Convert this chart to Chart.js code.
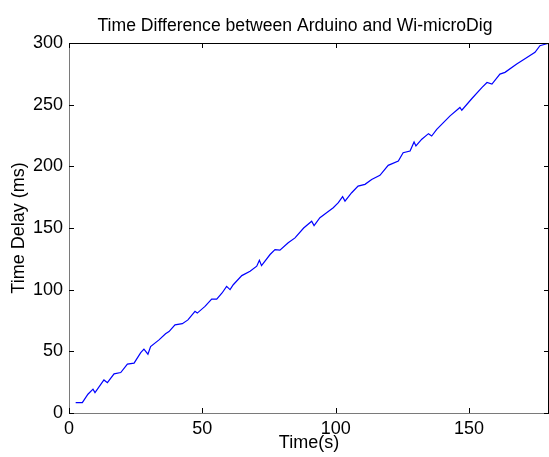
<!DOCTYPE html>
<html>
<head>
<meta charset="utf-8">
<script src="https://cdn.jsdelivr.net/npm/chart.js@4"></script>
<style>
  html, body { margin: 0; padding: 0; background: #fff; }
  #wrap { width: 549px; height: 457px; }
</style>
</head>
<body>
<div id="wrap"><canvas id="delayChart" width="549" height="457"></canvas></div>
<script>
const titleText = "Time Difference between Arduino and Wi-microDig";
const xTicks = [0, 50, 100, 150];
const yTicks = [0, 50, 100, 150, 200, 250, 300];

// seconds / milliseconds
const timeS = [2.5, 5, 7.1, 9, 9.75, 13.1, 14.4, 16.9, 19.4, 21.9, 24.4, 26.9, 28.1, 29.6, 30.6,
    33.75, 36.2, 37.5, 39.75, 42.5, 44.6, 47.25, 48.1, 51, 53.5, 55.4, 57.4, 59.1, 60.4, 61.6,
    64.8, 67.9, 70.4, 71.4, 72.2, 75.4, 77.25, 79.1, 82.2, 84.75, 88, 91, 91.9, 94.1, 96.6,
    99.1, 101, 102.6, 103.5, 106, 108.4, 111, 113.5, 116.6, 119.7, 123.5, 125.3, 127.9, 129.4,
    130.1, 132.3, 134.8, 136, 137.9, 140.4, 142.9, 146.6, 147.3, 151.1, 154.9, 156.75, 158.6,
    161.6, 163.5, 167.9, 170.4, 174.75, 176.6, 178.5, 180];
const delayMs = [8.4, 8.4, 15.2, 19.3, 16.5, 26.8, 24.6, 31.7, 32.8, 39.6, 40.4, 49, 51.8, 47.7, 53.9,
    59.3, 64.2, 66, 71.5, 72.4, 75.5, 82.4, 81, 86.4, 92.4, 92.4, 97.3, 102.7, 100, 104,
    111.4, 114.9, 119, 123.8, 119.5, 128.5, 132.5, 132, 138, 142, 150, 155.5, 152, 158.3, 162.3,
    166.4, 170.5, 175.4, 171.8, 178.6, 184, 185.4, 189.4, 192.7, 200.8, 204.3, 211, 212.4, 219.8,
    216.5, 222, 226.5, 224.6, 230, 235.5, 240.9, 247.7, 245.5, 255, 264, 268, 266.7,
    274.8, 276.2, 283, 286.4, 292.4, 297.8, 299, 300];

const points = timeS.map((t, i) => ({ x: t, y: delayMs[i] }));
const font = { family: "'Liberation Sans', Arial, sans-serif", size: 18 };

// matlab style frame: inward ticks, top/right box, title over the axes
const matlabFrame = {
    id: "matlabFrame",
    afterDraw(chart) {
        const c = chart.ctx;
        const a = chart.chartArea;
        const xs = chart.scales.x, ys = chart.scales.y;
        c.save();
        c.strokeStyle = "#000";
        c.lineWidth = 1;
        c.beginPath();
        c.moveTo(a.left, a.top + 0.5);
        c.lineTo(a.right, a.top + 0.5);
        c.moveTo(a.right - 0.5, a.top);
        c.lineTo(a.right - 0.5, a.bottom);
        xTicks.forEach(v => {
            const px = Math.round(xs.getPixelForValue(v)) + 0.5;
            c.moveTo(px, a.bottom); c.lineTo(px, a.bottom - 5);
            c.moveTo(px, a.top); c.lineTo(px, a.top + 5);
        });
        yTicks.forEach(v => {
            const py = Math.round(ys.getPixelForValue(v)) + 0.5;
            c.moveTo(a.left, py); c.lineTo(a.left + 5, py);
            c.moveTo(a.right, py); c.lineTo(a.right - 5, py);
        });
        c.stroke();
        c.fillStyle = "#000";
        c.font = "17.6px 'Liberation Sans', Arial, sans-serif";
        c.textAlign = "center";
        c.textBaseline = "alphabetic";
        c.fillText(titleText, 295, 31);
        c.restore();
    }
};

new Chart(document.getElementById("delayChart"), {
    type: "line",
    data: {
        datasets: [{
            label: "delay",
            data: points,
            borderColor: "#0000ff",
            borderWidth: 1.2,
            pointRadius: 0,
            tension: 0,
            fill: false
        }]
    },
    options: {
        responsive: false,
        animation: false,
        layout: { padding: { top: 43, right: 0, left: 0, bottom: 0 } },
        plugins: {
            legend: { display: false },
            tooltip: { enabled: false }
        },
        scales: {
            x: {
                type: "linear",
                min: 0,
                max: 180,
                afterBuildTicks: s => { s.ticks = xTicks.map(v => ({ value: v })); },
                afterFit: s => { s.height = 44; },
                grid: { display: false, drawTicks: false },
                border: { display: true, color: "#7a7a7a", width: 1 },
                ticks: { color: "#000", font: font, padding: 5, maxRotation: 0 },
                title: { display: true, text: "Time(s)", color: "#000", font: font, padding: { top: 4, bottom: 3 } }
            },
            y: {
                type: "linear",
                min: 0,
                max: 300,
                afterBuildTicks: s => { s.ticks = yTicks.map(v => ({ value: v })); },
                afterFit: s => { s.width = 69; },
                grid: { display: false, drawTicks: false },
                border: { display: true, color: "#7a7a7a", width: 1 },
                ticks: { color: "#000", font: font, padding: 6 },
                title: { display: true, text: "Time Delay (ms)", color: "#000", font: font, padding: { top: 8, bottom: 8 } }
            }
        }
    },
    plugins: [matlabFrame]
});
</script>
</body>
</html>
